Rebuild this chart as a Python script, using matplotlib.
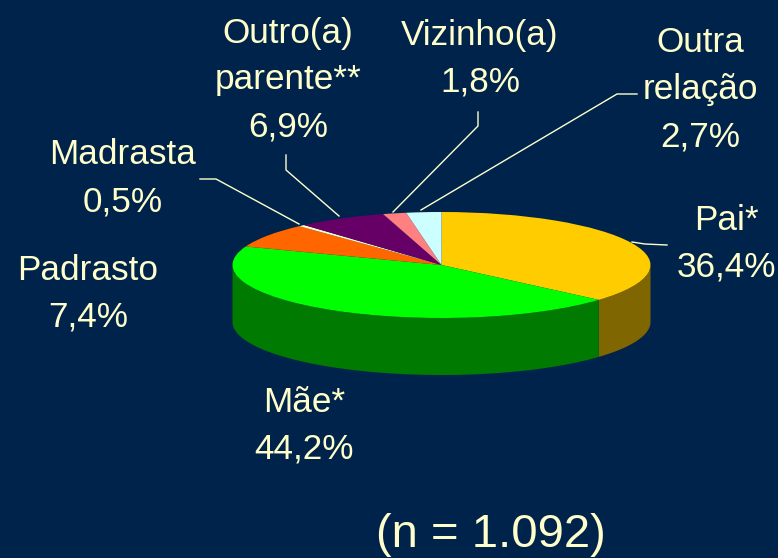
import numpy as np
import matplotlib
matplotlib.use("Agg")
import matplotlib.pyplot as plt
from matplotlib.transforms import Affine2D

plt.rcParams['font.family'] = ['Liberation Sans', 'DejaVu Sans']

categories = ["Pai*", "Mãe*", "Padrasto", "Madrasta", "Outro(a)\nparente**", "Vizinho(a)", "Outra\nrelação"]
values = [36.4, 44.2, 7.4, 0.5, 6.9, 1.8, 2.7]
value_labels = ["36,4%", "44,2%", "7,4%", "0,5%", "6,9%", "1,8%", "2,7%"]
top_colors = ["#FFCC00", "#00FF00", "#FF6600", "#FFFFCC", "#660066", "#FF8080", "#CCFFFF"]
side_colors = ["#806600", "#007A00", "#803300", "#808066", "#330033", "#804040", "#668080"]
bg = "#00234B"
text_color = "#FFFFCC"

W, H = 778, 558
cx, cy, rx, ry, depth = 441.5, 265, 209, 53, 57

fig = plt.figure(figsize=(W / 100, H / 100), dpi=100, facecolor=bg)
ax = fig.add_axes([0, 0, 1, 1])
ax.set_facecolor(bg)

# side walls, from the pie's own angles (clockwise from 12 o'clock)
fr = np.cumsum([0] + values) / sum(values) * 2 * np.pi
for i in range(len(values)):
    a0, a1 = fr[i], fr[i + 1]
    a = np.linspace(a0, a1, 200)
    a = a[np.sin(a - np.pi / 2) >= 0]
    if a.size < 2:
        continue
    x = cx + rx * np.sin(a)
    yt = cy - ry * np.cos(a)
    ax.fill(np.r_[x, x[::-1]], np.r_[H - yt, H - yt[::-1] - depth], color=side_colors[i], lw=0, zorder=1)

wedges, _ = ax.pie(values, colors=top_colors, startangle=90, counterclock=False,
                   radius=rx, center=(cx, H - cy), frame=True)
squash = Affine2D().translate(-cx, -(H - cy)).scale(1, ry / rx).translate(cx, H - cy)
for w in wedges:
    w.set_transform(squash + ax.transData)
    w.set_linewidth(0)
    w.set_zorder(2)

ax.set_aspect('auto')
ax.set_xlim(0, W)
ax.set_ylim(0, H)
ax.axis('off')

fs = 25.3
label_pos = [(726, 220, 0), (304, 402, 1), (88, 270, 2), (123, 155, 3), (288, 33, 4), (480, 35, 5), (700, 43, 6)]
for x, y, i in label_pos:
    lines = categories[i].split("\n") + [value_labels[i]]
    for k, s in enumerate(lines):
        ax.text(x, H - (y + k * 47), s, color=text_color, fontsize=fs, ha='center', va='center', zorder=5)

ax.text(491, H - 535, "(n = 1.092)", color=text_color, fontsize=34, ha='center', va='center', zorder=5)

# leader lines
leaders = [
    ([632, 645, 667], [242, 244, 245]),
    ([200, 216, 299], [179, 179, 224]),
    ([286, 286, 339], [155, 170, 216]),
    ([478, 478, 393], [112, 126, 212]),
    ([637, 617, 421], [94, 94, 210]),
]
for xs, ys in leaders:
    ax.plot(xs, [H - v for v in ys], color=text_color, lw=1, zorder=4)

fig.savefig("out.png", dpi=100, facecolor=bg)
